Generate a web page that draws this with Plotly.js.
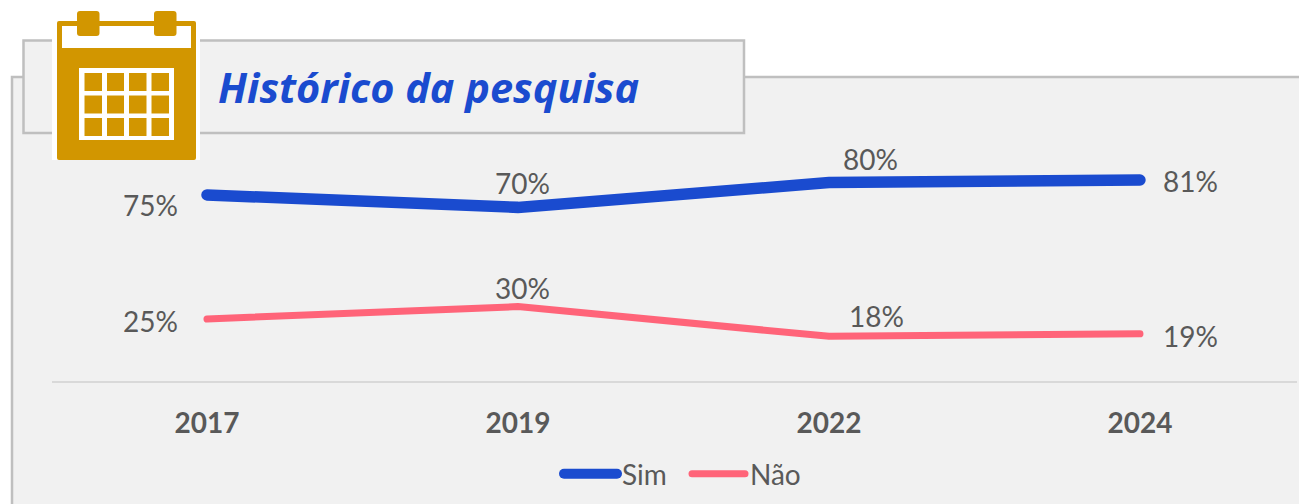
<!DOCTYPE html>
<html>
<head>
<meta charset="utf-8">
<script src="https://cdn.plot.ly/plotly-3.0.1.min.js"></script>
<style>
html,body{margin:0;padding:0;background:#fff;overflow:hidden}
#chart{width:1299px;height:504px}
.js-line,.legendlines path{stroke-linecap:round}
</style>
</head>
<body>
<div id="chart"></div>
<script>
const categories = ['2017', '2019', '2022', '2024'];
const simValues = [75, 70, 80, 81];
const naoValues = [25, 30, 18, 19];
const simLabels = ['75%', '70%', '80%', '81%'];
const naoLabels = ['25%', '30%', '18%', '19%'];
const simOffsets = [[-56, -10], [5, 24], [42, 24], [51, -1]];
const naoOffsets = [[-56, -2], [5, 19], [48, 20], [51, -2]];

const W = 1299, H = 504;
const FONT = 'Lato, "Open Sans", sans-serif';
const TEXT = '#595959', BLUE = '#1a4bcf', PINK = '#ff6479', GOLD = '#d29600';
const fx = x => x / W, fy = y => 1 - y / H;

function rect(x0, y0, x1, y1, fill, line, lw) {
  return {type: 'rect', xref: 'paper', yref: 'paper', layer: 'below',
    x0: fx(x0), x1: fx(x1), y0: fy(y0), y1: fy(y1),
    fillcolor: fill, line: {color: line || fill, width: line ? lw : 0}};
}
function roundRect(x0, y0, x1, y1, r, fill) {
  const X = fx, Y = fy;
  const pts = `M${X(x0 + r)},${Y(y0)} L${X(x1 - r)},${Y(y0)} Q${X(x1)},${Y(y0)} ${X(x1)},${Y(y0 + r)} ` +
    `L${X(x1)},${Y(y1 - r)} Q${X(x1)},${Y(y1)} ${X(x1 - r)},${Y(y1)} L${X(x0 + r)},${Y(y1)} ` +
    `Q${X(x0)},${Y(y1)} ${X(x0)},${Y(y1 - r)} L${X(x0)},${Y(y0 + r)} Q${X(x0)},${Y(y0)} ${X(x0 + r)},${Y(y0)} Z`;
  return {type: 'path', xref: 'paper', yref: 'paper', layer: 'below', path: pts,
    fillcolor: fill, line: {width: 0}};
}

const shapes = [
  rect(12, 77, 1302, 510, '#f1f1f1', '#bfbfbf', 2.5),
  rect(23.5, 40.5, 744, 133, '#f1f1f1', '#bfbfbf', 2.5),
  rect(52, 38, 200, 160, '#ffffff'),
  roundRect(57, 21, 196, 160, 2, GOLD),
  rect(62, 26, 191, 48, '#ffffff'),
  roundRect(77, 11, 99.5, 36, 3, GOLD),
  roundRect(154, 11, 176.5, 36, 3, GOLD),
  rect(79, 68, 174, 140, '#ffffff')
];
[[84.5, 102], [107, 124], [129, 146.5], [151.5, 169]].forEach(c => {
  [[73, 91], [95.5, 113.5], [118, 136]].forEach(r => {
    shapes.push(rect(c[0], r[0], c[1], r[1], GOLD));
  });
});

const annotations = [{
  xref: 'paper', yref: 'paper', x: fx(216), y: fy(87), xanchor: 'left', yanchor: 'middle',
  text: '<b><i>Histórico da pesquisa</i></b>', showarrow: false,
  font: {family: '"Open Sans", Lato, sans-serif', size: 41.5, color: BLUE}
}];
function addLabels(labels, values, offsets) {
  labels.forEach((t, i) => annotations.push({
    xref: 'x', yref: 'y', x: i, y: values[i], text: t, showarrow: false,
    xshift: offsets[i][0], yshift: offsets[i][1],
    font: {family: FONT, size: 28, color: TEXT}
  }));
}
addLabels(simLabels, simValues, simOffsets);
addLabels(naoLabels, naoValues, naoOffsets);

const traces = [
  {name: 'Sim', x: categories, y: simValues, type: 'scatter', mode: 'lines',
   line: {color: BLUE, width: 11.5}, hoverinfo: 'skip'},
  {name: 'Não', x: categories, y: naoValues, type: 'scatter', mode: 'lines',
   line: {color: PINK, width: 7}, hoverinfo: 'skip'}
];

const layout = {
  width: W, height: H,
  margin: {l: 0, r: 0, t: 0, b: 0, pad: 0},
  paper_bgcolor: 'rgba(0,0,0,0)', plot_bgcolor: 'rgba(0,0,0,0)',
  font: {family: FONT, color: TEXT},
  showlegend: true,
  legend: {
    orientation: 'h', x: fx(559), y: fy(474), xanchor: 'left', yanchor: 'middle',
    bgcolor: 'rgba(0,0,0,0)', itemwidth: 53, entrywidth: 60, entrywidthmode: 'pixels',
    font: {family: FONT, size: 28, color: TEXT}
  },
  xaxis: {
    domain: [fx(51.5), fx(1297)], type: 'category', categoryorder: 'array', categoryarray: categories,
    range: [-0.5, 3.505], showgrid: false, zeroline: false, showline: true,
    linecolor: '#d9d9d9', linewidth: 2, ticks: '', ticklen: 0, ticklabelstandoff: 16,
    tickfont: {family: FONT, size: 28, color: TEXT, weight: 'bold'}, automargin: false
  },
  yaxis: {
    domain: [fy(381), 1], range: [0, 153.6], visible: false, fixedrange: true
  },
  shapes, annotations
};
Plotly.newPlot('chart', traces, layout, {displayModeBar: false, staticPlot: true});
</script>
</body>
</html>
